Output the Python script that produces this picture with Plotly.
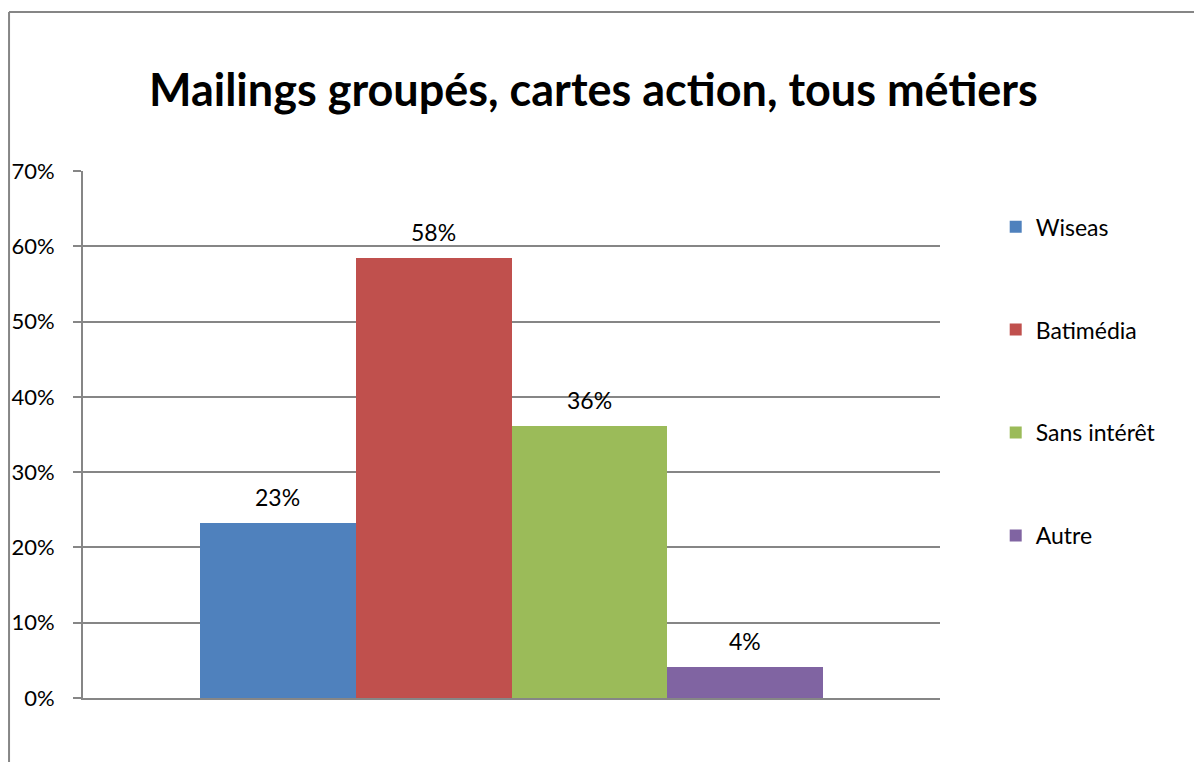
import plotly.graph_objects as go

# data
series = ['Wiseas', 'Batimédia', 'Sans intérêt', 'Autre']
values = [0.233, 0.584, 0.361, 0.041]
colors = ['#4f81bd', '#c0504d', '#9bbb59', '#8064a2']

grey = '#868686'
font_name = 'Lato'

fig = go.Figure()

# one bar per category, no gap between them (looks like a single Excel group)
for i in range(len(series)):
    fig.add_trace(go.Bar(
        x=[series[i]],
        y=[values[i]],
        name=series[i],
        legendgroup=series[i],
        marker=dict(color=colors[i], line=dict(width=0)),
    ))
    # value label floating above the bar
    fig.add_annotation(x=series[i], y=values[i], text=f'{values[i]:.0%}',
                       showarrow=False, yanchor='bottom', yshift=10,
                       font=dict(family=font_name, size=23, color='black'))

# outer chart border (only top and left edge are in view)
fig.add_shape(type='line', xref='paper', yref='paper',
              x0=-0.0863, x1=-0.0863, y0=-0.2, y1=1.3017,
              line=dict(color=grey, width=2))
fig.add_shape(type='line', xref='paper', yref='paper',
              x0=-0.0863, x1=1.4, y0=1.3017, y1=1.3017,
              line=dict(color=grey, width=2))

fig.update_layout(
    width=1194,
    height=762,
    margin=dict(l=83, r=254, t=171, b=64),
    paper_bgcolor='white',
    plot_bgcolor='white',
    barmode='overlay',
    bargap=0,
    title=dict(text='<b>Mailings groupés, cartes action, tous métiers</b>',
               x=0.497, xanchor='center', y=0.882, yanchor='middle',
               font=dict(family=font_name, size=45, color='black')),
    font=dict(family=font_name, size=22, color='black'),
    legend=dict(x=1.065, xanchor='left', y=0.935, yanchor='top',
                traceorder='grouped', tracegroupgap=70,
                font=dict(family=font_name, size=23, color='black'),
                bgcolor='rgba(0,0,0,0)'),
    xaxis=dict(range=[-1.25, 4.25], showticklabels=False, showgrid=False,
               zeroline=False, showline=True, linecolor=grey, linewidth=2,
               ticks=''),
    yaxis=dict(range=[0, 0.7], dtick=0.1, tickformat='.0%',
               showgrid=True, gridcolor=grey, gridwidth=2,
               zeroline=False, showline=True, linecolor=grey, linewidth=2,
               ticks='outside', ticklen=8, tickcolor=grey, tickwidth=2,
               ticklabelstandoff=14),
)

fig.write_html('out.html', config={'displayModeBar': False},
               post_script="document.body.style.margin='0';")
